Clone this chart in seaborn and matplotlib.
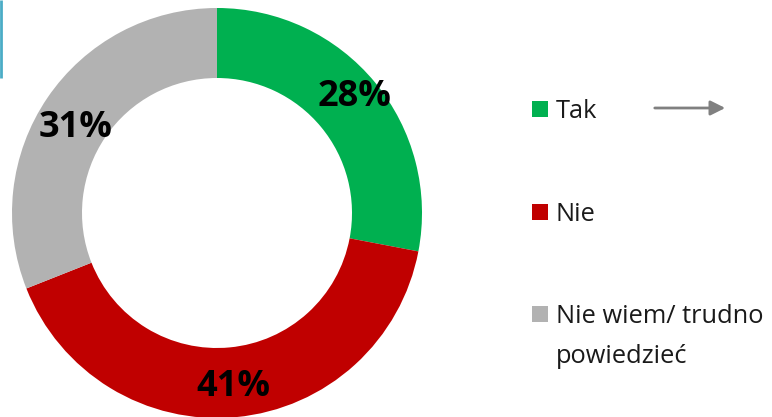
import seaborn as sns
import matplotlib.pyplot as plt
from matplotlib.patches import Rectangle

# data
categories = ["Tak", "Nie", "Nie wiem/ trudno\npowiedzieć"]
values = [28, 41, 31]
colors = ["#00B050", "#C00000", "#B2B2B2"]

sns.set_theme(style="white")
plt.rcParams['font.family'] = ['Open Sans', 'DejaVu Sans']

W, H = 772, 417
fig = plt.figure(figsize=(W / 100, H / 100), dpi=100)
ax = fig.add_axes([0, 0, 1, 1])

# donut, pixel-like data coordinates (y up)
wedges, texts, autotexts = ax.pie(
    values, colors=colors, startangle=90, counterclock=False,
    center=(217, 204), radius=205,
    wedgeprops=dict(width=70, linewidth=0),
    autopct=lambda p: f"{p:.0f}%", pctdistance=0.855,
    textprops=dict(fontsize=26, fontweight='bold', color='black'))

# small nudges so the labels sit like in the original
nudges = [(2, 4), (0, 0), (4, -14)]
for t, (dx, dy) in zip(autotexts, nudges):
    x, y = t.get_position()
    t.set_position((x + dx, y + dy))

ax.set_xlim(0, W)
ax.set_ylim(0, H)
ax.set_aspect('equal')
ax.axis('off')

# legend drawn by hand so the square sits on the first line
base_y = H - 118
step = 102.5
line_gap = 40
for i, (lab, col) in enumerate(zip(categories, colors)):
    y = base_y - i * step
    ax.add_patch(Rectangle((532, y + 1), 16, 16, color=col, linewidth=0))
    for j, line in enumerate(lab.split("\n")):
        ax.text(556, y - j * line_gap, line, fontsize=18.3, color='#1a1a1a',
                va='baseline', ha='left')

# arrow next to "Tak"
ax.annotate("", xy=(728, H - 108), xytext=(652, H - 108),
            arrowprops=dict(arrowstyle='-|>', color='#808080', lw=2,
                            mutation_scale=22))

# thin blue mark at the left edge
ax.plot([1, 1], [H, H - 78], color='#4BACC6', lw=2, solid_capstyle='butt')

fig.savefig("out.png", dpi=100)
